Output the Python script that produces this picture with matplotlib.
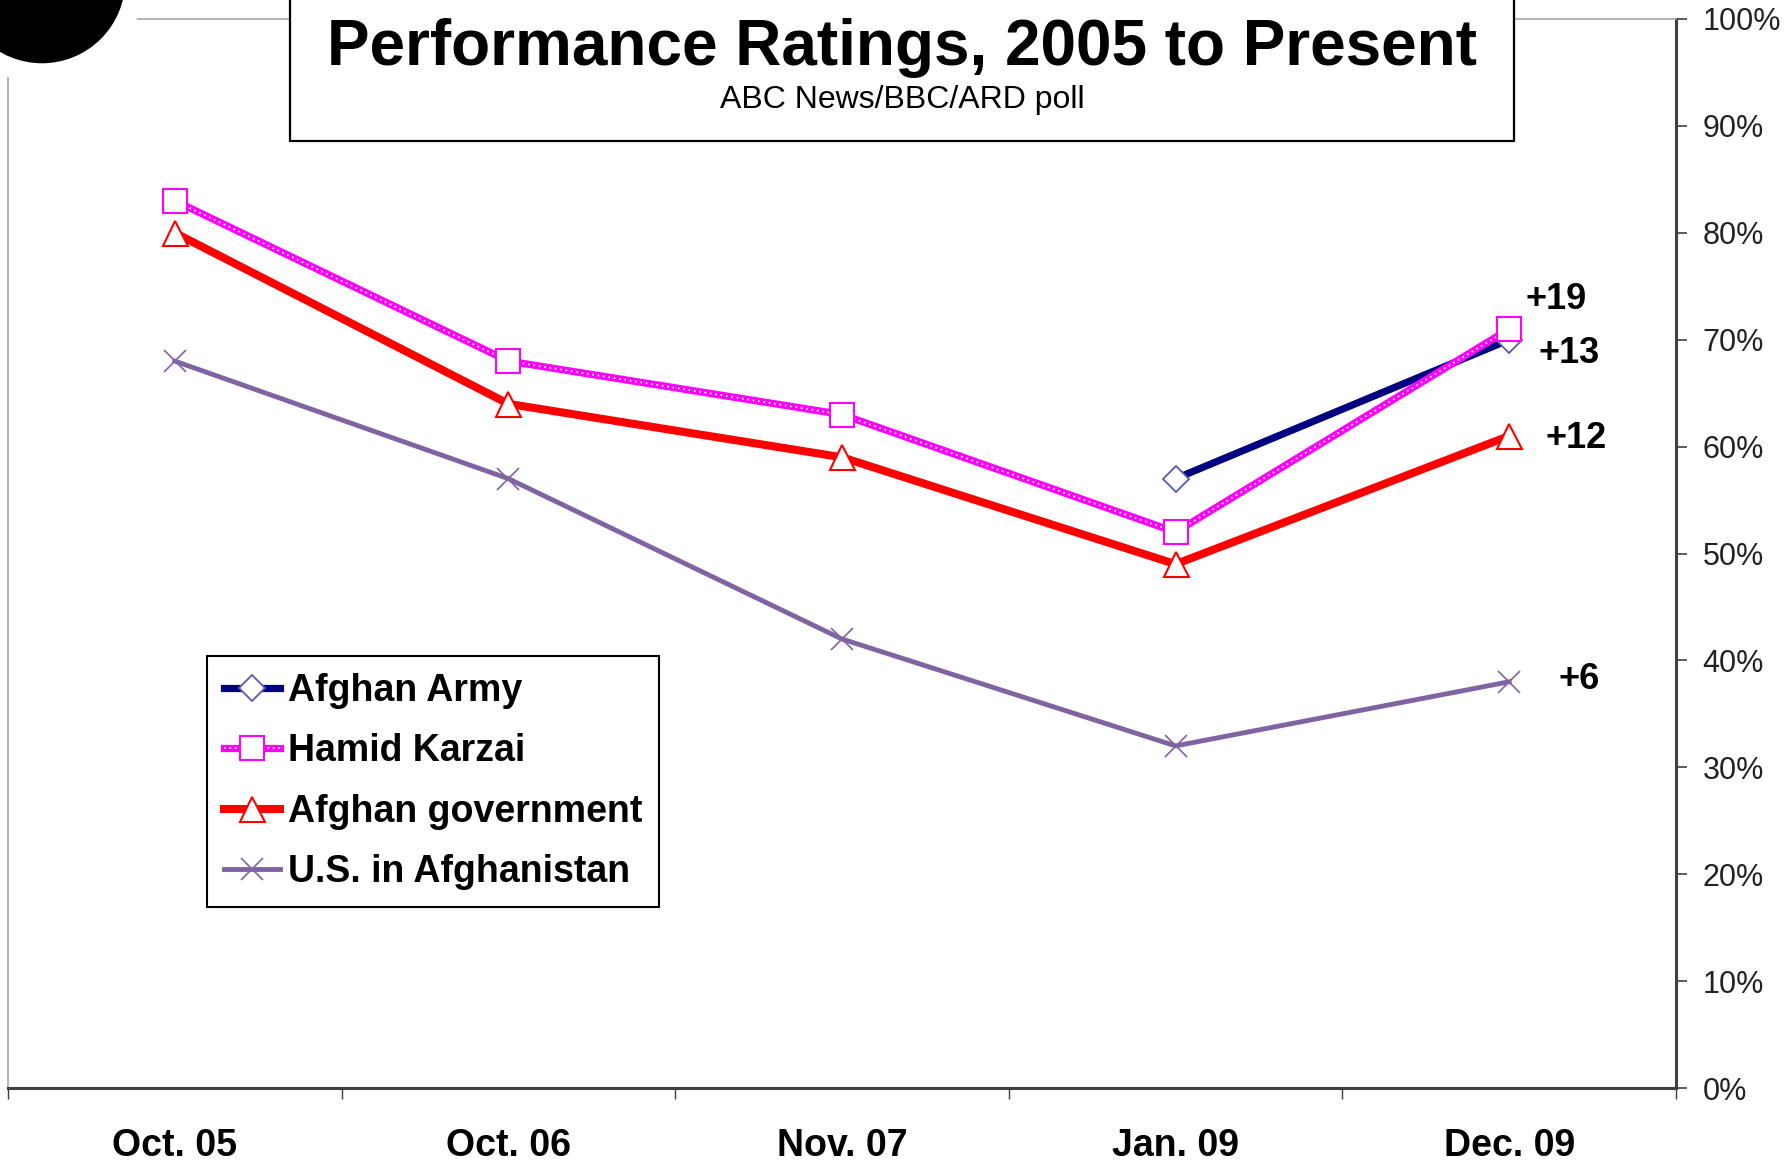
import matplotlib.pyplot as plt
import numpy as np
from matplotlib.patches import Circle, Rectangle
from matplotlib.lines import Line2D
from matplotlib.legend_handler import HandlerTuple

plt.rcParams['font.family'] = ['Liberation Sans', 'DejaVu Sans']

# Data (percent)
periods = ['Oct. 05', 'Oct. 06', 'Nov. 07', 'Jan. 09', 'Dec. 09']
army = [np.nan, np.nan, np.nan, 57, 70]
karzai = [83, 68, 63, 52, 71]
government = [80, 64, 59, 49, 61]
us_afghanistan = [68, 57, 42, 32, 38]
changes = ['+19', '+13', '+12', '+6']
yticks = np.arange(0, 101, 10)

W, H = 1790, 1167
fig = plt.figure(figsize=(W / 100, H / 100), dpi=100)
ax = fig.add_axes([8 / W, 1 - 1088 / H, (1676 - 8) / W, (1088 - 19) / H])

x = np.arange(len(periods))

# lines
ax.plot(x, army, color='#000080', lw=5.2, zorder=3,
        marker='D', ms=13, mfc='white', mec='#5a5aa8', mew=1.3)
ax.plot(x, karzai, color='#ff00ff', lw=5.2, zorder=4)
ax.plot(x, karzai, color='white', lw=1.3, ls=(0, (1, 2)), zorder=4)
ax.plot(x, karzai, ls='none', marker='s', ms=17, mfc='white', mec='#ff00ff', mew=1.5, zorder=5)
ax.plot(x, government, color='#ff0000', lw=5.8, zorder=3,
        marker='^', ms=18, mfc='white', mec='#ff0000', mew=1.5)
ax.plot(x, us_afghanistan, color='#8064a2', lw=3.5, zorder=3,
        marker='x', ms=16, mec='#8064a2', mew=1.2)

# change labels next to last points (centre positions)
label_pos = [(4.14, 73.8), (4.18, 68.7), (4.20, 60.8), (4.21, 38.2)]
for txt, (lx, ly) in zip(changes, label_pos):
    ax.text(lx, ly, txt, fontsize=26, fontweight='bold', ha='center', va='center')

ax.set_xlim(-0.5, len(periods) - 0.5)
ax.set_ylim(0, 100)

# axes / spines
for s in ['left', 'top']:
    ax.spines[s].set_color('#a6a6a6')
    ax.spines[s].set_linewidth(1.2)
for s in ['bottom', 'right']:
    ax.spines[s].set_color('#404040')
    ax.spines[s].set_linewidth(2.2)

ax.yaxis.tick_right()
ax.set_yticks(yticks)
ax.set_yticklabels([f'{v}%' for v in yticks])
ax.tick_params(axis='y', which='major', direction='out', length=8, width=1.2,
               color='#404040', pad=11, labelsize=22, labelcolor='#222222')

ax.set_xticks(np.arange(-0.5, len(periods), 1.0))
ax.set_xticklabels([])
ax.tick_params(axis='x', which='major', direction='out', length=8, width=1.0, color='#404040')
ax.set_xticks(x, minor=True)
ax.set_xticklabels(periods, minor=True)
ax.tick_params(axis='x', which='minor', length=0, pad=29, labelsize=27)
for t in ax.get_xticklabels(minor=True):
    t.set_fontweight('bold')

# legend
h_army = Line2D([], [], color='#000080', lw=5.2, marker='D', ms=13, mfc='white', mec='#5a5aa8', mew=1.3)
h_karzai = (Line2D([], [], color='#ff00ff', lw=5.2),
            Line2D([], [], color='white', lw=1.3, ls=(0, (1, 2))),
            Line2D([], [], ls='none', marker='s', ms=17, mfc='white', mec='#ff00ff', mew=1.5))
h_gov = Line2D([], [], color='#ff0000', lw=5.8, marker='^', ms=18, mfc='white', mec='#ff0000', mew=1.5)
h_us = Line2D([], [], color='#8064a2', lw=3.5, marker='x', ms=16, mec='#8064a2', mew=1.2)
leg = fig.legend([h_army, h_karzai, h_gov, h_us],
                 ['Afghan Army', 'Hamid Karzai', 'Afghan government', 'U.S. in Afghanistan'],
                 handler_map={tuple: HandlerTuple(ndivide=1, pad=0)},
                 loc='upper left', bbox_to_anchor=(207 / W, 1 - 656 / H),
                 prop={'size': 27, 'weight': 'bold'}, frameon=True, fancybox=False,
                 edgecolor='black', framealpha=1, handlelength=1.5, handletextpad=0.2,
                 labelspacing=0.65, borderpad=0.45, borderaxespad=0)
leg.get_frame().set_linewidth(1.5)

# title box
fig.patches.append(Rectangle((290 / W, 1 - 141 / H), (1514 - 290) / W, 0.2,
                             transform=fig.transFigure, facecolor='white',
                             edgecolor='black', lw=1.6, zorder=10))
fig.text(902 / W, 1 - 65 / H, 'Performance Ratings, 2005 to Present', ha='center',
         va='baseline', fontsize=46, fontweight='bold', zorder=11)
fig.text(902 / W, 1 - 108 / H, 'ABC News/BBC/ARD poll', ha='center', va='baseline',
         fontsize=23, zorder=11)

# black corner circle
fig.patches.append(Circle((42, H + 20), 93, transform=None, facecolor='black',
                          edgecolor='white', lw=14, zorder=10))

fig.savefig('out.png', dpi=100)
